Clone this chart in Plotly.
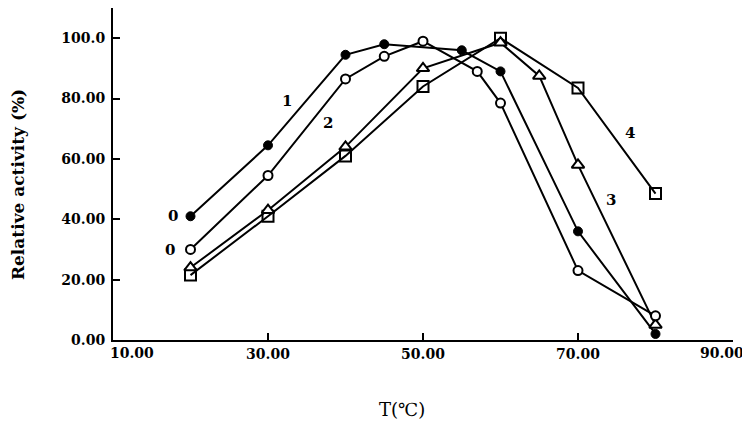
import plotly.graph_objects as go

# Data
t1 = [20, 30, 40, 45, 55, 60, 70, 80]
a1 = [41, 64.5, 94.5, 98, 96, 89, 36, 2]
t2 = [20, 30, 40, 45, 50, 57, 60, 70, 80]
a2 = [30, 54.5, 86.5, 94, 99, 89, 78.5, 23, 8]
t3 = [20, 30, 40, 50, 60, 65, 70, 80]
a3 = [24, 43, 64, 90, 98.5, 87.5, 58, 5]
t4 = [20, 30, 40, 50, 60, 70, 80]
a4 = [21.5, 41, 61, 84, 100, 83.5, 48.5]

x_ticks = [10, 30, 50, 70, 90]
x_tick_text = ["10.00", "30.00", "50.00", "70.00", "90.00"]
y_ticks = [0, 20, 40, 60, 80, 100]
y_tick_text = ["0.00", "20.00", "40.00", "60.00", "80.00", "100.0"]

curve_labels = ["1", "2", "3", "4", "0", "0"]
label_x = [32.5, 37.7, 74.3, 76.7, 17.7, 17.4]
label_y = [79.2, 72, 46.5, 68.6, 41.2, 29.7]

FONT = "DejaVu Serif"
TICKFONT = dict(family=FONT, size=14, color="black", weight="bold")

# end labels sit inward of their ticks in the reference: drawn as annotations
shown_x_text = [""] + x_tick_text[1:-1] + [""]

fig = go.Figure()

line = dict(color="black", width=2)
fig.add_trace(go.Scatter(x=t4, y=a4, mode="lines+markers", line=line,
                         marker=dict(symbol="square-open", size=11, color="black", line=dict(width=2))))
fig.add_trace(go.Scatter(x=t3, y=a3, mode="lines+markers", line=line,
                         marker=dict(symbol="triangle-up", size=11, color="white", line=dict(width=2, color="black"))))
fig.add_trace(go.Scatter(x=t2, y=a2, mode="lines+markers", line=line,
                         marker=dict(symbol="circle", size=9, color="white", line=dict(width=2, color="black"))))
fig.add_trace(go.Scatter(x=t1, y=a1, mode="lines+markers", line=line,
                         marker=dict(symbol="circle", size=9, color="black", line=dict(width=1, color="black"))))

for txt, lx, ly in zip(curve_labels, label_x, label_y):
    fig.add_annotation(x=lx, y=ly, text=txt, showarrow=False,
                       font=dict(family=FONT, size=15, color="black", weight="bold"))

fig.add_annotation(x=-0.008, xref="paper", y=-0.04, yref="paper",
                   xanchor="left", yanchor="middle", text=x_tick_text[0],
                   showarrow=False, font=TICKFONT)
fig.add_annotation(x=1.021, xref="paper", y=-0.04, yref="paper",
                   xanchor="right", yanchor="middle", text=x_tick_text[-1],
                   showarrow=False, font=TICKFONT)

# axis titles placed as in the reference
fig.add_annotation(x=47.3, xref="x", y=-0.21, yref="paper", yanchor="middle",
                   text="T(℃)", showarrow=False,
                   font=dict(family=FONT, size=18, color="black"))
fig.add_annotation(x=-0.153, xref="paper", y=0.467, yref="paper",
                   xanchor="center", yanchor="middle", textangle=-90,
                   text="Relative activity (%)", showarrow=False,
                   font=dict(family=FONT, size=17, color="black", weight="bold"))

fig.update_layout(
    width=742, height=417,
    margin=dict(l=105, r=17, t=0, b=85),
    paper_bgcolor="white", plot_bgcolor="white",
    showlegend=False,
    font=dict(family=FONT, size=14, color="black"),
)
fig.update_xaxes(range=[10, 90], tickvals=x_ticks, ticktext=shown_x_text,
                 showline=True, linecolor="black", linewidth=2,
                 ticks="inside", ticklen=7, tickwidth=2, tickcolor="black",
                 showgrid=False, zeroline=False, automargin=False,
                 ticklabeloverflow="allow", tickfont=TICKFONT)
fig.update_yaxes(range=[0, 110], tickvals=y_ticks, ticktext=y_tick_text,
                 showline=True, linecolor="black", linewidth=2,
                 ticks="inside", ticklen=7, tickwidth=2, tickcolor="black",
                 showgrid=False, zeroline=False, automargin=False,
                 ticklabeloverflow="allow", ticklabelstandoff=3,
                 tickfont=TICKFONT)

fig.write_html("out.html")
